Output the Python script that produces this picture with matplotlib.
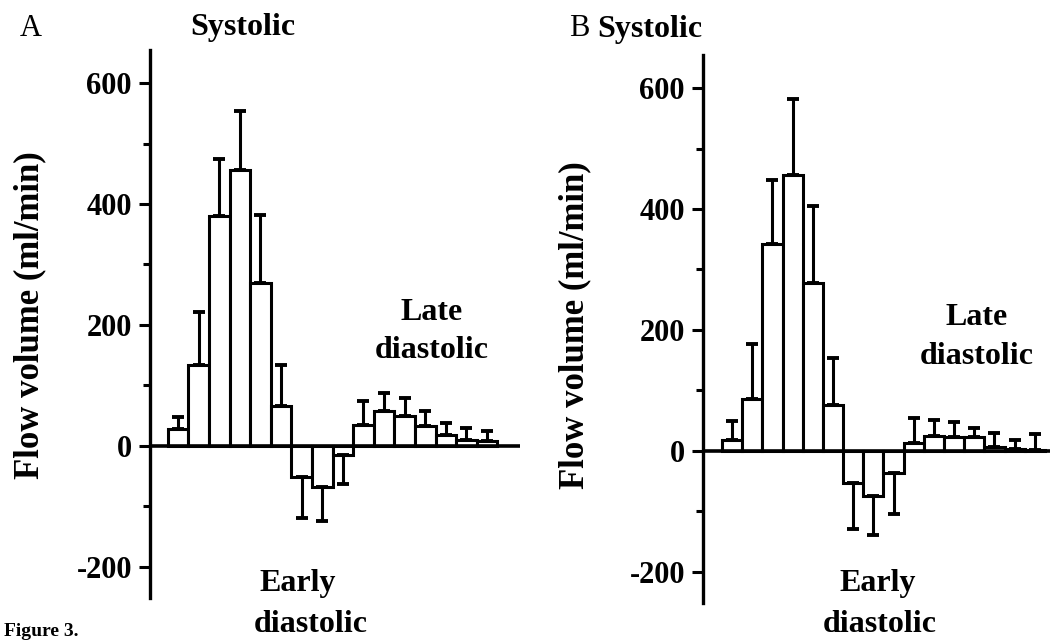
import numpy as np
import matplotlib.pyplot as plt
from matplotlib.ticker import MultipleLocator

plt.rcParams['font.family'] = ['Liberation Serif', 'DejaVu Serif']
plt.rcParams['axes.unicode_minus'] = False

# Panel A
vals_a = [28, 134, 380, 456, 270, 66, -51, -68, -15, 34, 57, 49, 33, 18, 10, 8]
err_a = [19, 87, 95, 98, 112, 68, 69, 57, 49, 40, 30, 30, 24, 20, 20, 17]
# Panel B
vals_b = [17, 86, 343, 456, 277, 75, -53, -75, -37, 13, 25, 23, 22, 6, 3, 2]
err_b = [33, 91, 105, 126, 128, 79, 77, 65, 68, 42, 26, 25, 16, 24, 14, 25]

yticks = [-200, 0, 200, 400, 600]


def panel(ax, vals, errs, xlim, lab_x, lab_y):
    x = np.arange(len(vals))
    vals = np.array(vals)
    errs = np.array(errs)
    ax.bar(x, vals, width=1.0, color='white', edgecolor='black', linewidth=2.2, zorder=2)
    lo = np.where(vals < 0, errs, 0)
    hi = np.where(vals >= 0, errs, 0)
    ax.errorbar(x, vals, yerr=[lo, hi], fmt='none', ecolor='black',
                elinewidth=2.2, capsize=4.5, capthick=2.8, zorder=3)
    ax.axhline(0, color='black', linewidth=2.6, zorder=4)
    ax.set_xlim(*xlim)
    ax.set_ylim(-252, 655)
    for s in ['top', 'right', 'bottom']:
        ax.spines[s].set_visible(False)
    ax.spines['left'].set_linewidth(2.4)
    ax.set_xticks([])
    ax.set_yticks(yticks)
    ax.yaxis.set_minor_locator(MultipleLocator(100))
    ax.tick_params(axis='y', which='major', length=8, width=2.2, pad=5, labelsize=22)
    ax.tick_params(axis='y', which='minor', length=5, width=2.2)
    for lab in ax.get_yticklabels():
        lab.set_fontweight('bold')
    ax.set_ylabel('Flow volume (ml/min)', fontsize=25, fontweight='bold', va='center')
    ax.yaxis.set_label_coords(lab_x, lab_y)


fig = plt.figure(figsize=(10.62, 6.42), dpi=100)
ax_a = fig.add_axes([150 / 1062, 1 - 598 / 642, 370 / 1062, 548 / 642])
ax_b = fig.add_axes([703 / 1062, 1 - 603 / 642, 347 / 1062, 548 / 642])

panel(ax_a, vals_a, err_a, (-1.36, 16.6), -0.324, 0.516)
panel(ax_b, vals_b, err_b, (-1.44, 15.75), -0.369, 0.507)

def ftext(x, y, s, **kw):
    fig.text(x / 1062, 1 - y / 642, s, ha='center', va='center', **kw)

bold = dict(fontsize=23, fontweight='bold')
ftext(31, 28, 'A', fontsize=22)
ftext(579, 29, 'B', fontsize=22)
ftext(243, 27, 'Systolic', **bold)
ftext(650, 30, 'Systolic', **bold)
ftext(432, 312, 'Late', **bold)
ftext(432, 351, 'diastolic', **bold)
ftext(977, 318, 'Late', **bold)
ftext(977, 357, 'diastolic', **bold)
ftext(298, 584, 'Early', **bold)
ftext(311, 624, 'diastolic', **bold)
ftext(878, 584, 'Early', **bold)
ftext(880, 624, 'diastolic', **bold)

# caption line at the lower edge of the scan
fig.text(4 / 1062, 1 - 640 / 642, 'Figure 3.', ha='left', va='bottom',
         fontsize=14, fontweight='bold')

fig.savefig('out.png', dpi=100)
